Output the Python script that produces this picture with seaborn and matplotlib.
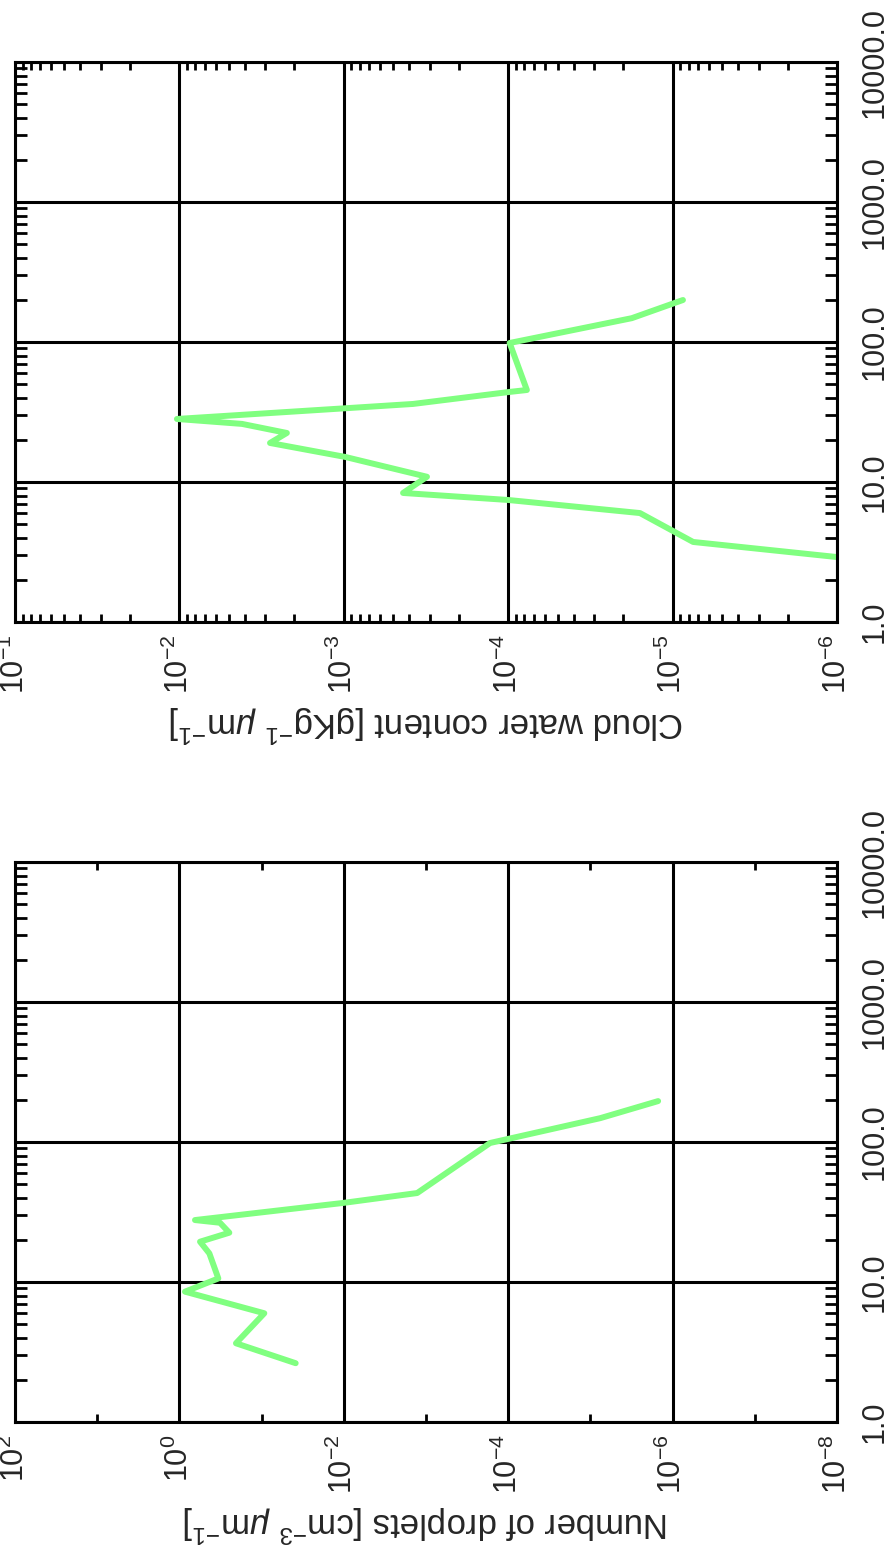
import matplotlib
matplotlib.use("Agg")
import matplotlib.pyplot as plt
import matplotlib.ticker as mticker
import numpy as np
import pandas as pd
import seaborn as sns

# values read off the (rotated) reference picture
# droplet diameter [um] vs number of droplets [cm-3 um-1]
nd_diam = [2.63, 3.65, 5.98, 8.53, 10.6, 16.0, 19.4, 22.5, 26.5, 27.7, 36.7, 43.2, 98.4, 148, 196]
nd_vals = [0.0385, 0.205, 0.0927, 0.855, 0.336, 0.432, 0.561, 0.247, 0.321, 0.646,
           0.0102, 0.00128, 1.66e-4, 7.6e-6, 1.5e-6]

# droplet diameter [um] vs cloud water content [g kg-1 um-1]
lwc_diam = [2.91, 3.73, 6.0, 7.44, 8.35, 10.9, 15.1, 19.0, 22.4, 26.0, 28.2, 36.1, 44.0, 45.4,
            98.4, 148, 199.5]
lwc_vals = [1e-6, 7.5e-6, 1.58e-5, 1.0e-4, 4.36e-4, 3.12e-4, 9.8e-4, 2.81e-3, 2.22e-3, 4.16e-3,
            1.035e-2, 3.79e-4, 9.8e-5, 7.7e-5, 9.8e-5, 1.77e-5, 8.65e-6]

diam_ticks = [1.0, 10.0, 100.0, 1000.0, 10000.0]
diam_labels = ["1.0", "10.0", "100.0", "1000.0", "10000.0"]

nd_ticks = [1e2, 1e0, 1e-2, 1e-4, 1e-6, 1e-8]
nd_labels = [r"$10^{2}$", r"$10^{0}$", r"$10^{-2}$", r"$10^{-4}$", r"$10^{-6}$", r"$10^{-8}$"]
nd_minor = [1e1, 1e-1, 1e-3, 1e-5, 1e-7]

lwc_ticks = [1e-1, 1e-2, 1e-3, 1e-4, 1e-5, 1e-6]
lwc_labels = [r"$10^{-1}$", r"$10^{-2}$", r"$10^{-3}$", r"$10^{-4}$", r"$10^{-5}$", r"$10^{-6}$"]

sns.set_style("white")
plt.rcParams["font.family"] = ["Liberation Sans", "DejaVu Sans"]
plt.rcParams["mathtext.fontset"] = "custom"
plt.rcParams["mathtext.rm"] = "Liberation Sans"
plt.rcParams["mathtext.it"] = "Liberation Sans:italic"
plt.rcParams["mathtext.bf"] = "Liberation Sans:bold"

green = "#80FF80"
fs = 22

fig = plt.figure(figsize=(8.88, 15.61), dpi=100)
ax_top = fig.add_axes([15 / 888, 1 - 622 / 1561, 822 / 888, 560 / 1561])
ax_bot = fig.add_axes([15 / 888, 1 - 1422 / 1561, 822 / 888, 560 / 1561])


def panel(ax, vals, diam, xticks, xlabels, xminor, xlabel):
    ax.set_xscale("log")
    ax.set_yscale("log")
    sns.lineplot(x=vals, y=diam, sort=False, estimator=None, color=green, lw=4.3, ax=ax)
    ax.set_xlim(xticks[0], xticks[-1])
    ax.set_ylim(diam_ticks[0], diam_ticks[-1])

    ax.xaxis.set_major_locator(mticker.FixedLocator(xticks))
    ax.xaxis.set_major_formatter(mticker.FixedFormatter(xlabels))
    ax.xaxis.set_minor_locator(xminor)
    ax.xaxis.set_minor_formatter(mticker.NullFormatter())
    ax.yaxis.set_major_locator(mticker.FixedLocator(diam_ticks))
    ax.yaxis.set_major_formatter(mticker.FixedFormatter(diam_labels))
    ax.yaxis.set_minor_locator(mticker.LogLocator(base=10, subs=np.arange(2, 10), numticks=50))
    ax.yaxis.set_minor_formatter(mticker.NullFormatter())

    ax.grid(True, which="major", color="black", lw=2.2)
    ax.grid(False, which="minor")
    for s in ax.spines.values():
        s.set_color("black")
        s.set_linewidth(2.2)

    ax.tick_params(axis="x", which="major", length=0, pad=9, labelsize=fs, labelrotation=90)
    ax.tick_params(axis="x", which="minor", direction="in", top=True, bottom=True,
                   length=5.8, width=2, color="black")
    ax.tick_params(axis="y", which="major", length=0, pad=16, labelsize=fs, labelrotation=90,
                   left=False, right=True, labelleft=False, labelright=True)
    ax.tick_params(axis="y", which="minor", direction="in", left=True, right=True,
                   length=8.6, width=2, color="black")
    for t in ax.get_yticklabels():
        t.set_va("center")
        t.set_ha("left")
    ax.set_ylabel("")
    ax.set_xlabel(xlabel, rotation=180, fontsize=25, labelpad=6)
    if ax.get_legend() is not None:
        ax.get_legend().remove()


panel(ax_top, lwc_vals, lwc_diam, lwc_ticks, lwc_labels,
      mticker.LogLocator(base=10, subs=np.arange(2, 10), numticks=50),
      r"Cloud water content [gKg$^{-1}$ $\mu$m$^{-1}$]")
panel(ax_bot, nd_vals, nd_diam, nd_ticks, nd_labels,
      mticker.FixedLocator(nd_minor),
      r"Number of droplets [cm$^{-3}$ $\mu$m$^{-1}$]")

fig.savefig("out.png", dpi=100)
